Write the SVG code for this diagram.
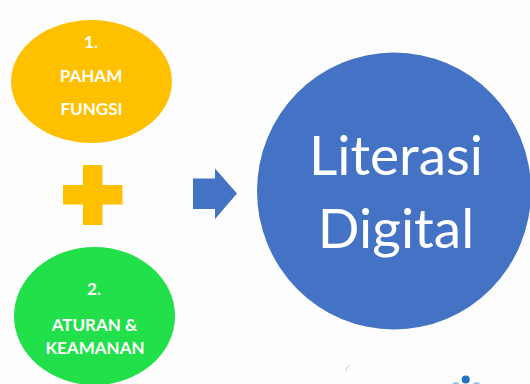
<svg xmlns="http://www.w3.org/2000/svg" width="530" height="384" viewBox="0 0 530 384">
<style>
.lbl{font-family:Lato,"Open Sans","Liberation Sans",sans-serif;font-weight:bold;font-size:17px;fill:#ffffff;text-anchor:middle}
.big{font-family:Lato,"Open Sans","Liberation Sans",sans-serif;font-size:55px;fill:#ffffff;text-anchor:middle}
</style>
<rect width="530" height="384" fill="#fdfdfd"/>
<g id="paham">
<ellipse cx="91.5" cy="81.5" rx="80.5" ry="61.5" fill="#ffc000"/>
<text class="lbl" x="91" y="48">1.</text>
<text class="lbl" x="91" y="82">PAHAM</text>
<text class="lbl" x="91.5" y="115">FUNGSI</text>
</g>
<g id="plus">
<rect x="83" y="165" width="19.5" height="60" fill="#ffc000"/>
<rect x="63" y="185" width="59.5" height="19.5" fill="#ffc000"/>
</g>
<g id="aturan">
<ellipse cx="94.5" cy="316" rx="80.5" ry="69" fill="#22e04a"/>
<text class="lbl" x="94" y="295">2.</text>
<text class="lbl" x="94.5" y="331">ATURAN &amp;</text>
<text class="lbl" x="95" y="354">KEAMANAN</text>
</g>
<g id="connectors">
<polygon points="193,178.5 215,178.5 215,168.5 237,193.5 215,219 215,209 193,209" fill="#4472c4"/>
</g>
<g id="literasi">
<ellipse cx="394" cy="191" rx="137" ry="138.5" fill="#4472c4"/>
<text class="big" x="396" y="175">Literasi</text>
<text class="big" x="396" y="248">Digital</text>
</g>
<g id="decor">
<path d="M350,365 q-4,2 -4,6" fill="none" stroke="#cfcfcf" stroke-width="1"/>
<circle cx="465.7" cy="379.5" r="4" fill="#1e72c8"/>
<circle cx="456" cy="386" r="4" fill="#9cc4ea"/>
<circle cx="476.5" cy="386" r="4" fill="#9cc4ea"/>
</g>
</svg>
